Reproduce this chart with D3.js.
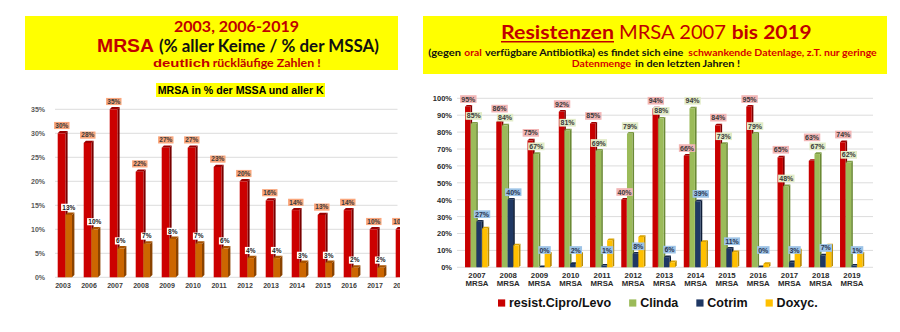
<!DOCTYPE html>
<html>
<head>
<meta charset="utf-8">
<script src="https://cdn.jsdelivr.net/npm/d3@7"></script>
<style>
  body { margin: 0; background: #ffffff; }
  svg { display: block; }
</style>
</head>
<body>
<svg id="chart" width="900" height="332"></svg>
<script>
// ---------- Left chart: MRSA share over the years ----------
const yearsLeft = ["2003","2006","2007","2008","2009","2010","2011","2012","2013","2014","2015","2016","2017","2018"];
const mrsaOfMssa = [30, 28, 35, 22, 27, 27, 23, 20, 16, 14, 13, 14, 10, 10];
const mrsaOfAll  = [13, 10, 6, 7, 8, 7, 6, 4, 4, 3, 3, 2, 2, null];
const leftTicks  = [0, 5, 10, 15, 20, 25, 30, 35];

// ---------- Right chart: resistance of MRSA to oral antibiotics ----------
const yearsRight = ["2007","2008","2009","2010","2011","2012","2013","2014","2015","2016","2017","2018","2019"];
const ciproLevo = [95, 86, 75, 92, 85, 40, 94, 66, 84, 95, 65, 63, 74];
const clinda    = [85, 84, 67, 81, 69, 79, 88, 94, 73, 79, 48, 67, 62];
const cotrim    = [27, 40, 0, 2, 1, 8, 6, 39, 11, 0, 3, 7, 1];
const doxyc     = [23, 13, 8, 8, 16, 18, 3, 15, 9, 2, 10, 13, 8];
const seriesNames = ["resist.Cipro/Levo", "Clinda", "Cotrim", "Doxyc."];
const rightTicks = [0, 10, 20, 30, 40, 50, 60, 70, 80, 90, 100];

const svg = d3.select("#chart");
const ARIAL = "'Liberation Sans', Arial, sans-serif";
const CALIBRI = "Lato, 'Open Sans', sans-serif";

// text piece stretched to a given width
function piece(x, y, str, len, size, family, weight, color) {
  return svg.append("text")
    .attr("x", x).attr("y", y)
    .attr("textLength", len).attr("lengthAdjust", "spacingAndGlyphs")
    .style("font-family", family).style("font-size", size + "px")
    .style("font-weight", weight).attr("fill", color)
    .text(str);
}

// 3D-looking column: front face, darker side face, top face
function bar3d(g, x, yTop, w, y0, c, d) {
  const h = Math.max(0, y0 - yTop);
  g.append("polygon")
    .attr("points", [[x + w, yTop], [x + w + d, yTop - d], [x + w + d, yTop + h - d], [x + w, yTop + h]].join(" "))
    .attr("fill", c.side);
  g.append("polygon")
    .attr("points", [[x, yTop], [x + d, yTop - d], [x + w + d, yTop - d], [x + w, yTop]].join(" "))
    .attr("fill", c.top);
  if (h > 0) g.append("rect").attr("x", x).attr("y", yTop).attr("width", w).attr("height", h).attr("fill", c.front);
}

// value label on a filled box
function valueLabel(g, cx, cy, str, size, bg, fg) {
  const t = g.append("text")
    .attr("x", cx).attr("y", cy + size * 0.36)
    .attr("text-anchor", "middle")
    .style("font-family", ARIAL).style("font-size", size + "px").style("font-weight", "bold")
    .attr("fill", fg).text(str);
  const w = t.node().getComputedTextLength() + 2.4;
  g.insert("rect", () => t.node())
    .attr("x", cx - w / 2).attr("y", cy - size * 0.55)
    .attr("width", w).attr("height", size * 1.1)
    .attr("fill", bg);
}

// ================= LEFT PANEL =================
svg.append("rect").attr("x", 25).attr("y", 16).attr("width", 373).attr("height", 54).attr("fill", "#ffff00");
piece(174, 32.3, "2003, 2006-2019", 125, 15, CALIBRI, 700, "#c00000");
piece(97, 52.3, "MRSA", 57, 18, ARIAL, 700, "#c00000");
piece(159, 52.3, "(% aller Keime / % der MSSA)", 220, 16.5, CALIBRI, 700, "#111111");
piece(153, 67.3, "deutlich", 57, 10.5, ARIAL, 700, "#c00000");
piece(212.7, 67.3, "rückläufige Zahlen !", 108, 11.5, CALIBRI, 700, "#c00000");

svg.append("rect").attr("x", 156).attr("y", 83).attr("width", 169).attr("height", 14).attr("fill", "#ffff00");
piece(157.7, 93.8, "MRSA in % der MSSA und aller K", 166, 10, ARIAL, 700, "#000000");

svg.append("defs").append("clipPath").attr("id", "leftClip")
  .append("rect").attr("x", 0).attr("y", 0).attr("width", 400).attr("height", 332);

const left = svg.append("g").attr("clip-path", "url(#leftClip)");
const xL = d3.scaleBand().domain(yearsLeft).range([50, 50 + 26 * yearsLeft.length]);
const yL = d3.scaleLinear().domain([0, 35]).range([277.3, 109.3]);

// gridlines
left.append("g").selectAll("line").data(leftTicks).join("line")
  .attr("x1", 55).attr("x2", 397.5)
  .attr("y1", d => yL(d)).attr("y2", d => yL(d))
  .attr("stroke", "#dcdcdc").attr("stroke-width", 1);

// y axis labels
const yAxisL = left.append("g").attr("transform", "translate(55,0)")
  .call(d3.axisLeft(yL).tickValues(leftTicks).tickSize(0).tickPadding(10).tickFormat(d => d + "%"));
yAxisL.select(".domain").remove();
yAxisL.selectAll("text").style("font-family", ARIAL).style("font-size", "7px")
  .style("font-weight", "bold").attr("fill", "#595959");

// x axis labels
const xAxisL = left.append("g").attr("transform", "translate(0,277.3)")
  .call(d3.axisBottom(xL).tickSize(0));
xAxisL.select(".domain").remove();
xAxisL.selectAll("text").attr("y", 10.4).attr("dy", null)
  .style("font-family", ARIAL).style("font-size", "7px").style("font-weight", "bold").attr("fill", "#404040");

const redL = { front: "#cc0000", side: "#7a0000", top: "#9a0000" };
const orangeL = { front: "#cc6600", side: "#8a4300", top: "#a85200" };
const barsL = left.append("g");
yearsLeft.forEach((yr, i) => {
  const c = xL(yr) + xL.bandwidth() / 2;
  bar3d(barsL, c - 5.3, yL(mrsaOfMssa[i]), 7.7, yL(0), redL, 2.2);
  if (mrsaOfAll[i] != null) bar3d(barsL, c + 2.4, yL(mrsaOfAll[i]), 6.6, yL(0), orangeL, 2.4);
});
const labelsL = left.append("g");
yearsLeft.forEach((yr, i) => {
  const c = xL(yr) + xL.bandwidth() / 2;
  valueLabel(labelsL, c - 1.2, yL(mrsaOfMssa[i]) - 7.8, mrsaOfMssa[i] + "%", 6.5, "#f9a67c", "#3a3a3a");
  if (mrsaOfAll[i] != null)
    valueLabel(labelsL, c + 5.8, yL(mrsaOfAll[i]) - 7.6, mrsaOfAll[i] + "%", 6.5, "#ffffff", "#222222");
});

// ================= RIGHT PANEL =================
svg.append("rect").attr("x", 423).attr("y", 16).attr("width", 464).attr("height", 58).attr("fill", "#ffff00");
piece(501, 39.3, "Resistenzen", 113, 18.5, CALIBRI, 700, "#c00000");
svg.append("line").attr("x1", 501).attr("x2", 614).attr("y1", 41.8).attr("y2", 41.8)
  .attr("stroke", "#c00000").attr("stroke-width", 1.4);
piece(619, 39.3, "MRSA 2007", 107, 18.5, CALIBRI, 400, "#c00000");
piece(731.7, 39.3, "bis 2019", 80, 18.5, CALIBRI, 700, "#c00000");
piece(428.3, 55.7, "(gegen", 32.7, 10, CALIBRI, 700, "#111111");
piece(464.3, 55.7, "oral", 17.4, 10, CALIBRI, 700, "#d40000");
piece(485, 55.7, "verfügbare Antibiotika) es findet sich eine", 198.3, 10, CALIBRI, 700, "#111111");
piece(688.3, 55.7, "schwankende Datenlage, z.T. nur geringe", 188.4, 10, CALIBRI, 700, "#d40000");
piece(571.7, 66.7, "Datenmenge", 59.3, 10, CALIBRI, 700, "#d40000");
piece(635, 66.7, "in den letzten Jahren !", 105, 10, CALIBRI, 700, "#111111");

const right = svg.append("g");
const xR = d3.scaleBand().domain(yearsRight).range([461.4, 461.4 + 31.25 * yearsRight.length]);
const yR = d3.scaleLinear().domain([0, 100]).range([267.3, 98.3]);

right.append("g").selectAll("line").data(rightTicks).join("line")
  .attr("x1", 457).attr("x2", 873)
  .attr("y1", d => yR(d)).attr("y2", d => yR(d))
  .attr("stroke", "#dcdcdc").attr("stroke-width", 1);

const yAxisR = right.append("g").attr("transform", "translate(457,0)")
  .call(d3.axisLeft(yR).tickValues(rightTicks).tickSize(0).tickPadding(5).tickFormat(d => d + "%"));
yAxisR.select(".domain").remove();
yAxisR.selectAll("text").style("font-family", ARIAL).style("font-size", "7.5px")
  .style("font-weight", "bold").attr("fill", "#2a2a2a");

const xAxisR = right.append("g").attr("transform", "translate(0,267.3)")
  .call(d3.axisBottom(xR).tickSize(0));
xAxisR.select(".domain").remove();
xAxisR.selectAll("text").each(function (d) {
  const t = d3.select(this).attr("y", 0).attr("dy", null).text(null)
    .style("font-family", ARIAL).style("font-size", "7.8px").style("font-weight", "bold").attr("fill", "#2a2a2a");
  t.append("tspan").attr("x", 0).attr("y", 11).text(d);
  t.append("tspan").attr("x", 0).attr("y", 19).text("MRSA");
});

const seriesR = [ciproLevo, clinda, cotrim, doxyc];
const colorsR = [
  { front: "#c80000", side: "#800000", top: "#a00000" },
  { front: "#9bbb59", side: "#6b8a35", top: "#7f9e45" },
  { front: "#1f3864", side: "#0e1d38", top: "#16294a" },
  { front: "#ffc000", side: "#b98a00", top: "#d9a300" }
];
const barsR = right.append("g");
seriesR.forEach((vals, s) => {
  yearsRight.forEach((yr, i) => {
    const c = xR(yr) + xR.bandwidth() / 2;
    bar3d(barsR, c - 12 + s * 5.7, yR(vals[i]), 5.4, yR(0), colorsR[s], 1.7);
  });
});

const labelsR = right.append("g");
yearsRight.forEach((yr, i) => {
  const c = xR(yr) + xR.bandwidth() / 2;
  const greenY = yR(clinda[i]) - 7.7;
  let redY = yR(ciproLevo[i]) - 7.7;
  if (Math.abs(redY - greenY) < 7) redY = greenY - 9;
  valueLabel(labelsR, c - 8.7, redY, ciproLevo[i] + "%", 7, "#f2b6b6", "#3a3a3a");
  valueLabel(labelsR, c - 3.2, greenY, clinda[i] + "%", 7, "#e2ecc8", "#3a3a3a");
  const navyY = Math.min(yR(cotrim[i]) - 7.5, 250);
  valueLabel(labelsR, c + 5, navyY, cotrim[i] + "%", 7, "#9dc3e6", "#2a3550");
});

// legend
const legend = right.append("g");
let lx = 498;
seriesNames.forEach((name, s) => {
  legend.append("rect").attr("x", lx).attr("y", 299.4).attr("width", 7.2).attr("height", 7.2)
    .attr("fill", colorsR[s].front);
  const t = legend.append("text").attr("x", lx + 11).attr("y", 306.6)
    .style("font-family", ARIAL).style("font-size", "12.5px").style("font-weight", "bold")
    .attr("fill", "#111111").text(name);
  lx += 11 + t.node().getComputedTextLength() + 18;
});
</script>
</body>
</html>
